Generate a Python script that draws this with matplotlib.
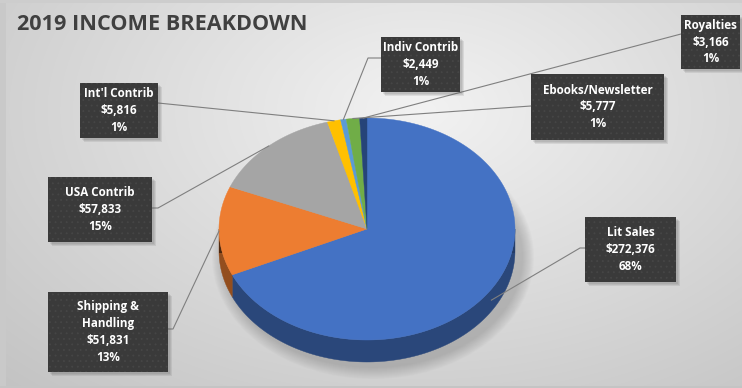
import numpy as np
import matplotlib.pyplot as plt
from matplotlib.patches import Polygon, Rectangle, Ellipse
import matplotlib.colors as mcolors

plt.rcParams['font.family'] = ['Open Sans', 'DejaVu Sans']

# 2019 income by source
categories = ['Lit Sales', 'Shipping &\nHandling', 'USA Contrib', "Int'l Contrib",
              'Indiv Contrib', 'Ebooks/Newsletter', 'Royalties']
amounts = [272376, 51831, 57833, 5816, 2449, 5777, 3166]
pct_labels = ['68%', '13%', '15%', '1%', '1%', '1%', '1%']
colors = ['#4472C4', '#ED7D31', '#A5A5A5', '#FFC000', '#5B9BD5', '#70AD47', '#264478']

# label boxes (x0, y0, x1, y1) in pixels, and where the leader meets the box
boxes = [(585, 217, 676, 282), (48, 292, 168, 372), (48, 177, 152, 242),
         (80, 83, 158, 138), (381, 37, 460, 92), (531, 74, 664, 140),
         (681, 15, 740, 69)]
box_conn = [(585, 248), (168, 329), (152, 208), (158, 103), (381, 58), (531, 106), (681, 34)]
elbows = [(580, 248), (173, 329), (158, 208), None, (368, 58), None, None]

W, H = 742, 388
cx, cy, rx, ry, depth = 367, 229, 148, 111, 22

fig = plt.figure(figsize=(W / 100, H / 100), dpi=100)
ax = fig.add_axes([0, 0, 1, 1])
ax.set_xlim(0, W)
ax.set_ylim(H, 0)
ax.axis('off')

# background: soft radial grey gradient
yy, xx = np.mgrid[0:H, 0:W]
d = np.sqrt(((xx - 420) / 520.0) ** 2 + ((yy - 110) / 330.0) ** 2)
shade = np.clip(0.95 - 0.16 * d, 0.74, 0.96)
bg = np.dstack([shade, shade, shade])
ax.imshow(bg, extent=(0, W, H, 0), zorder=0, interpolation='bilinear')
ax.add_patch(Rectangle((0, 0), 6, H, facecolor='#c9c9c9', edgecolor='none', zorder=1))
ax.add_patch(Rectangle((0, 0), W, 3, facecolor='#cdcdcd', edgecolor='none', zorder=1))
ax.add_patch(Rectangle((0, H - 2), W, 2, facecolor='#c4c4c4', edgecolor='none', zorder=1))


def pt(theta, dy=0.0):
    t = np.radians(theta)
    return cx + rx * np.cos(t), cy - ry * np.sin(t) + dy


# shadow under the pie
for k in range(12):
    ax.add_patch(Ellipse((cx + 6, cy + depth + 6), 2 * rx + 26 - 2 * k, 2 * ry + 22 - 2 * k,
                         facecolor='#707070', edgecolor='none', alpha=0.03, zorder=2))

# wedge angles, clockwise from 12 o'clock
total = float(sum(amounts))
angles = []
start = 90.0
for a in amounts:
    span = 360.0 * a / total
    angles.append((start - span, start))
    start -= span

# front side wall, one flat piece per wedge
for (a0, a1), c in zip(angles, colors):
    for off in (0, -360):
        l2, h2 = max(a0 + off, -180), min(a1 + off, 0)
        if l2 >= h2:
            continue
        ts = np.linspace(l2, h2, 120)
        verts = [pt(t) for t in ts] + [pt(t, depth) for t in ts[::-1]]
        fc = np.array(mcolors.to_rgb(c)) * 0.62
        ax.add_patch(Polygon(verts, closed=True, facecolor=fc, edgecolor=fc,
                             linewidth=0.3, zorder=3))

# darker toward the lower left of the wall
ts = np.linspace(-180, 0, 200)
wall = Polygon([pt(t) for t in ts] + [pt(t, depth) for t in ts[::-1]], closed=True,
               facecolor='none', edgecolor='none')
ax.add_patch(wall)
gx = np.linspace(0, 1, 200)[None, :]
gy = np.linspace(0, 1, 40)[:, None]
alpha = np.clip(0.35 * (1 - gx) + 0.15 * gy, 0, 0.5)
ov = np.zeros((40, 200, 4))
ov[..., 3] = alpha
im = ax.imshow(ov, extent=(cx - rx, cx + rx, cy + depth + 2, cy - 2), zorder=3.5,
               interpolation='bilinear')
im.set_clip_path(wall)

# top face
for (a0, a1), c in zip(angles, colors):
    ts = np.linspace(a1, a0, max(int((a1 - a0) * 2), 4))
    verts = [(cx, cy)] + [pt(t) for t in ts]
    ax.add_patch(Polygon(verts, closed=True, facecolor=c, edgecolor=c,
                         linewidth=0.3, zorder=4))

# leader lines from the middle of each wedge
for i, (a0, a1) in enumerate(angles):
    mid = (a0 + a1) / 2
    dy = depth / 2 if np.sin(np.radians(mid)) < -0.3 else 0
    ax0, ay0 = pt(mid, dy)
    xs, ys = [ax0], [ay0]
    if elbows[i] is not None:
        xs.append(elbows[i][0])
        ys.append(elbows[i][1])
    xs.append(box_conn[i][0])
    ys.append(box_conn[i][1])
    ax.plot(xs, ys, color='#7f7f7f', linewidth=0.8, zorder=5)

# data label boxes
plt.rcParams['hatch.linewidth'] = 0.6
for i, (x0, y0, x1, y1) in enumerate(boxes):
    for k in range(3):
        ax.add_patch(Rectangle((x0 + 2 + k, y0 + 2 + k), x1 - x0, y1 - y0,
                               facecolor='#555555', edgecolor='none', alpha=0.12, zorder=6))
    ax.add_patch(Rectangle((x0, y0), x1 - x0, y1 - y0, facecolor='#3a3a3a',
                           edgecolor='none', zorder=7))
    ax.add_patch(Rectangle((x0, y0), x1 - x0, y1 - y0, facecolor='none',
                           edgecolor='#464646', hatch='...', linewidth=0, zorder=7))
    txt = f'{categories[i]}\n${amounts[i]:,}\n{pct_labels[i]}'
    ax.text((x0 + x1) / 2, (y0 + y1) / 2, txt, ha='center', va='center', color='white',
            fontsize=8.4, fontweight='bold', linespacing=1.38, zorder=8)

ax.text(17, 24, '2019 INCOME BREAKDOWN', fontsize=15.6, fontweight='bold',
        color='#404040', ha='left', va='center', zorder=8)

fig.savefig('out.png', dpi=100)
